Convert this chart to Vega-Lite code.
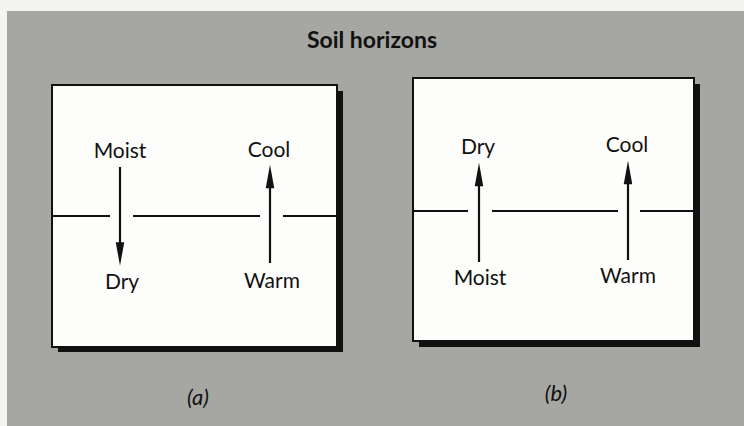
{
  "$schema": "https://vega.github.io/schema/vega-lite/v6.json",
  "width": 744,
  "height": 426,
  "autosize": {"type": "none"},
  "padding": 0,
  "background": "#f4f4f2",
  "config": {"view": {"stroke": null}},
  "layer": [
    {
      "data": {"values": [{"x": 7, "x2": 744, "y": 11, "y2": 426}]},
      "mark": {"type": "rect", "fill": "#a6a6a2"},
      "encoding": {
        "x": {"field": "x", "type": "quantitative", "scale": {"domain": [0, 744], "nice": false, "zero": false}, "axis": null},
        "x2": {"field": "x2"},
        "y": {"field": "y", "type": "quantitative", "scale": {"domain": [0, 426], "nice": false, "zero": false, "reverse": true}, "axis": null},
        "y2": {"field": "y2"}
      }
    },
    {
      "data": {"values": [{"x": 58, "x2": 343, "y": 91, "y2": 352}, {"x": 419, "x2": 700, "y": 84, "y2": 347}]},
      "mark": {"type": "rect", "fill": "#111111"},
      "encoding": {
        "x": {"field": "x", "type": "quantitative", "scale": {"domain": [0, 744], "nice": false, "zero": false}, "axis": null},
        "x2": {"field": "x2"},
        "y": {"field": "y", "type": "quantitative", "scale": {"domain": [0, 426], "nice": false, "zero": false, "reverse": true}, "axis": null},
        "y2": {"field": "y2"}
      }
    },
    {
      "data": {"values": [{"x": 52, "x2": 337, "y": 85, "y2": 347}, {"x": 413, "x2": 694, "y": 78, "y2": 341}]},
      "mark": {"type": "rect", "fill": "#fdfdfb", "stroke": "#111111", "strokeWidth": 2},
      "encoding": {
        "x": {"field": "x", "type": "quantitative", "scale": {"domain": [0, 744], "nice": false, "zero": false}, "axis": null},
        "x2": {"field": "x2"},
        "y": {"field": "y", "type": "quantitative", "scale": {"domain": [0, 426], "nice": false, "zero": false, "reverse": true}, "axis": null},
        "y2": {"field": "y2"}
      }
    },
    {
      "data": {"values": [
        {"x": 53, "x2": 110, "y": 216},
        {"x": 133, "x2": 260, "y": 216},
        {"x": 283, "x2": 336, "y": 216},
        {"x": 414, "x2": 468, "y": 211},
        {"x": 492, "x2": 618, "y": 211},
        {"x": 640, "x2": 693, "y": 211}
      ]},
      "mark": {"type": "rule", "stroke": "#111111", "strokeWidth": 2},
      "encoding": {
        "x": {"field": "x", "type": "quantitative", "scale": {"domain": [0, 744], "nice": false, "zero": false}, "axis": null},
        "x2": {"field": "x2"},
        "y": {"field": "y", "type": "quantitative", "scale": {"domain": [0, 426], "nice": false, "zero": false, "reverse": true}, "axis": null}
      }
    },
    {
      "data": {"values": [
        {"x": 120, "y": 167, "y2": 250},
        {"x": 270, "y": 263, "y2": 180},
        {"x": 479, "y": 262, "y2": 178},
        {"x": 628, "y": 260, "y2": 176}
      ]},
      "mark": {"type": "rule", "stroke": "#111111", "strokeWidth": 2.2},
      "encoding": {
        "x": {"field": "x", "type": "quantitative", "scale": {"domain": [0, 744], "nice": false, "zero": false}, "axis": null},
        "y": {"field": "y", "type": "quantitative", "scale": {"domain": [0, 426], "nice": false, "zero": false, "reverse": true}, "axis": null},
        "y2": {"field": "y2"}
      }
    },
    {
      "data": {"values": [
        {"x": 120, "y": 254, "dir": "down"},
        {"x": 270, "y": 176.5, "dir": "up"},
        {"x": 479, "y": 174.5, "dir": "up"},
        {"x": 628, "y": 172.5, "dir": "up"}
      ]},
      "mark": {"type": "point", "filled": true, "fill": "#111111", "strokeWidth": 0, "opacity": 1, "size": 560},
      "encoding": {
        "x": {"field": "x", "type": "quantitative", "scale": {"domain": [0, 744], "nice": false, "zero": false}, "axis": null},
        "y": {"field": "y", "type": "quantitative", "scale": {"domain": [0, 426], "nice": false, "zero": false, "reverse": true}, "axis": null},
        "shape": {"field": "dir", "type": "nominal", "scale": {"domain": ["up", "down"], "range": ["M0,-1L0.36,1L-0.36,1Z", "M0,1L0.36,-1L-0.36,-1Z"]}, "legend": null}
      }
    },
    {
      "data": {"values": [
        {"x": 120, "y": 152, "label": "Moist"},
        {"x": 269, "y": 151, "label": "Cool"},
        {"x": 122, "y": 283, "label": "Dry"},
        {"x": 272, "y": 282, "label": "Warm"},
        {"x": 478, "y": 148, "label": "Dry"},
        {"x": 627, "y": 146, "label": "Cool"},
        {"x": 480, "y": 279, "label": "Moist"},
        {"x": 628, "y": 277, "label": "Warm"}
      ]},
      "mark": {"type": "text", "font": "Lato", "fontSize": 21, "fill": "#111111", "align": "center", "baseline": "middle"},
      "encoding": {
        "x": {"field": "x", "type": "quantitative", "scale": {"domain": [0, 744], "nice": false, "zero": false}, "axis": null},
        "y": {"field": "y", "type": "quantitative", "scale": {"domain": [0, 426], "nice": false, "zero": false, "reverse": true}, "axis": null},
        "text": {"field": "label"}
      }
    },
    {
      "data": {"values": [{"x": 372, "y": 41, "label": "Soil horizons"}]},
      "mark": {"type": "text", "font": "Lato", "fontSize": 23, "fontWeight": "bold", "fill": "#111111", "align": "center", "baseline": "middle"},
      "encoding": {
        "x": {"field": "x", "type": "quantitative", "scale": {"domain": [0, 744], "nice": false, "zero": false}, "axis": null},
        "y": {"field": "y", "type": "quantitative", "scale": {"domain": [0, 426], "nice": false, "zero": false, "reverse": true}, "axis": null},
        "text": {"field": "label"}
      }
    },
    {
      "data": {"values": [{"x": 198, "y": 398, "label": "(a)"}, {"x": 556, "y": 394, "label": "(b)"}]},
      "mark": {"type": "text", "font": "Lato", "fontSize": 22, "fontStyle": "italic", "fill": "#111111", "align": "center", "baseline": "middle"},
      "encoding": {
        "x": {"field": "x", "type": "quantitative", "scale": {"domain": [0, 744], "nice": false, "zero": false}, "axis": null},
        "y": {"field": "y", "type": "quantitative", "scale": {"domain": [0, 426], "nice": false, "zero": false, "reverse": true}, "axis": null},
        "text": {"field": "label"}
      }
    }
  ]
}
